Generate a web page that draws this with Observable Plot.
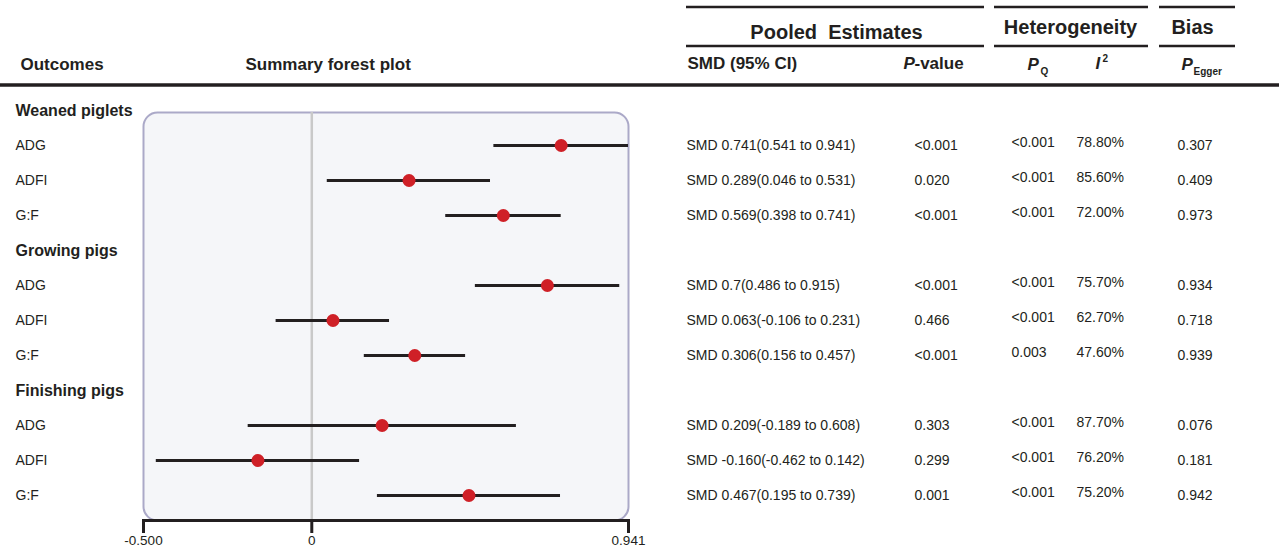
<!DOCTYPE html>
<html>
<head>
<meta charset="utf-8">
<script src="https://cdn.jsdelivr.net/npm/d3@7"></script>
<script src="https://cdn.jsdelivr.net/npm/@observablehq/plot@0.6"></script>
<style>
  html, body { margin: 0; padding: 0; background: #fff; }
  #chart svg { display: block; }
</style>
</head>
<body>
<div id="chart"></div>
<script>
// ---------------- data ----------------
const groups   = ["Weaned piglets", "Growing pigs", "Finishing pigs"];
const outcomes = ["ADG", "ADFI", "G:F"];
const smd   = [0.741, 0.289, 0.569, 0.7, 0.063, 0.306, 0.209, -0.160, 0.467];
const lower = [0.541, 0.046, 0.398, 0.486, -0.106, 0.156, -0.189, -0.462, 0.195];
const upper = [0.941, 0.531, 0.741, 0.915, 0.231, 0.457, 0.608, 0.142, 0.739];
const smdText = [
  "SMD 0.741(0.541 to 0.941)", "SMD 0.289(0.046 to 0.531)", "SMD 0.569(0.398 to 0.741)",
  "SMD 0.7(0.486 to 0.915)", "SMD 0.063(-0.106 to 0.231)", "SMD 0.306(0.156 to 0.457)",
  "SMD 0.209(-0.189 to 0.608)", "SMD -0.160(-0.462 to 0.142)", "SMD 0.467(0.195 to 0.739)"
];
const pValue = ["<0.001", "0.020", "<0.001", "<0.001", "0.466", "<0.001", "0.303", "0.299", "0.001"];
const pQ     = ["<0.001", "<0.001", "<0.001", "<0.001", "<0.001", "0.003", "<0.001", "<0.001", "<0.001"];
const iSq    = ["78.80%", "85.60%", "72.00%", "75.70%", "62.70%", "47.60%", "87.70%", "76.20%", "75.20%"];
const pEgger = ["0.307", "0.409", "0.973", "0.934", "0.718", "0.939", "0.076", "0.181", "0.942"];
const xTicks = [-0.5, 0, 0.941];
const xTickLabels = ["-0.500", "0", "0.941"];

// ---------------- layout / style ----------------
const W = 1279, H = 552;
const FONT = "'Liberation Sans', Arial, Helvetica, sans-serif";
const INK = "#231f20";
const frameBox = {left: 143, right: 628, top: 112, bottom: 520};
const col = {outcome: 15, smd: 686, p: 914, pq: 1011, i2: 1076, egger: 1177};
const spans = [[686, 984], [994, 1148], [1159, 1235]];

// ---------------- rows ----------------
const rows = [];
groups.forEach((g, gi) => {
  rows.push({key: "h" + gi, label: g, header: true});
  outcomes.forEach((o, oi) => {
    const i = gi * outcomes.length + oi;
    rows.push({
      key: "r" + i, label: o, header: false,
      smd: smd[i], lo: lower[i], hi: upper[i],
      smdText: smdText[i], p: pValue[i], pq: pQ[i], i2: iSq[i], egger: pEgger[i]
    });
  });
});
const dataRows = rows.filter(r => !r.header);
const headRows = rows.filter(r => r.header);

const colText = (field, x, extra = {}) =>
  Plot.text(dataRows, {
    y: "key", text: field, frameAnchor: "left", dx: x - frameBox.left,
    textAnchor: "start", lineAnchor: "middle", fontSize: 14, fill: INK, ...extra
  });

const hdr = (txt, x, y, extra = {}) =>
  Plot.text([txt], {
    text: d => d, frameAnchor: "top-left",
    dx: x - frameBox.left, dy: y - frameBox.top,
    textAnchor: "start", lineAnchor: "middle", fontSize: 17, fontWeight: "bold", fill: INK, ...extra
  });

const headerLines = () => {
  const g = d3.create("svg:g").attr("stroke", INK).attr("fill", "none");
  for (const [a, b] of spans) {
    g.append("line").attr("x1", a).attr("x2", b).attr("y1", 7).attr("y2", 7).attr("stroke-width", 2.6);
    g.append("line").attr("x1", a).attr("x2", b).attr("y1", 46).attr("y2", 46).attr("stroke-width", 2.6);
  }
  g.append("line").attr("x1", 0).attr("x2", W).attr("y1", 85).attr("y2", 85).attr("stroke-width", 3.6);
  return g.node();
};

const chart = Plot.plot({
  width: W, height: H,
  marginLeft: frameBox.left, marginRight: W - frameBox.right,
  marginTop: frameBox.top, marginBottom: H - frameBox.bottom,
  style: {fontFamily: FONT, color: INK, background: "#fff", overflow: "visible"},
  x: {domain: [xTicks[0], xTicks[xTicks.length - 1]], axis: null},
  y: {type: "point", domain: rows.map(r => r.key), range: [109, 496], padding: 0, axis: null},
  marks: [
    Plot.frame({fill: "#f5f6f9", stroke: "#aba9c8", strokeWidth: 2, rx: 14, ry: 14}),
    Plot.ruleX([0], {stroke: "#c9c9c9", strokeWidth: 2.5}),
    Plot.ruleY(dataRows, {y: "key", x1: "lo", x2: "hi", stroke: INK, strokeWidth: 3}),
    Plot.dot(dataRows, {x: "smd", y: "key", r: 6.5, fill: "#cf2027", stroke: "none"}),
    Plot.frame({anchor: "bottom", stroke: INK, strokeWidth: 3}),
    Plot.axisX(xTicks, {
      anchor: "bottom", tickSize: 13, strokeWidth: 3, tickPadding: 2,
      fontSize: 13.5, fill: INK,
      tickFormat: d => xTickLabels[xTicks.indexOf(d)]
    }),
    // outcome column
    Plot.text(headRows, {y: "key", text: "label", frameAnchor: "left", dx: col.outcome - frameBox.left,
      textAnchor: "start", lineAnchor: "middle", fontSize: 16, fontWeight: "bold", fill: INK}),
    Plot.text(dataRows, {y: "key", text: "label", frameAnchor: "left", dx: col.outcome - frameBox.left,
      textAnchor: "start", lineAnchor: "middle", fontSize: 14, fill: INK}),
    // table columns
    colText("smdText", col.smd),
    colText("p", col.p),
    colText("pq", col.pq, {dy: -3}),
    colText("i2", col.i2, {dy: -3}),
    colText("egger", col.egger),
    // header
    headerLines,
    hdr("Outcomes", 20, 64),
    hdr("Summary forest plot", 245, 64),
    hdr("Pooled\u00a0 Estimates", 836, 32, {fontSize: 20, textAnchor: "middle"}),
    hdr("Heterogeneity", 1070, 27, {fontSize: 20, textAnchor: "middle"}),
    hdr("Bias", 1192, 27, {fontSize: 20, textAnchor: "middle"}),
    hdr("SMD (95% CI)", 687, 63),
    hdr("P", 903, 63, {fontStyle: "italic"}),
    hdr("-value", 914, 63),
    hdr("P", 1027, 64, {fontStyle: "italic"}),
    hdr("Q", 1040, 71, {fontSize: 10}),
    hdr("I", 1095, 63, {fontStyle: "italic"}),
    hdr("2", 1102, 58, {fontSize: 10}),
    hdr("P", 1181, 64, {fontStyle: "italic"}),
    hdr("Egger", 1193, 71, {fontSize: 10})
  ]
});

document.getElementById("chart").appendChild(chart);
</script>
</body>
</html>
